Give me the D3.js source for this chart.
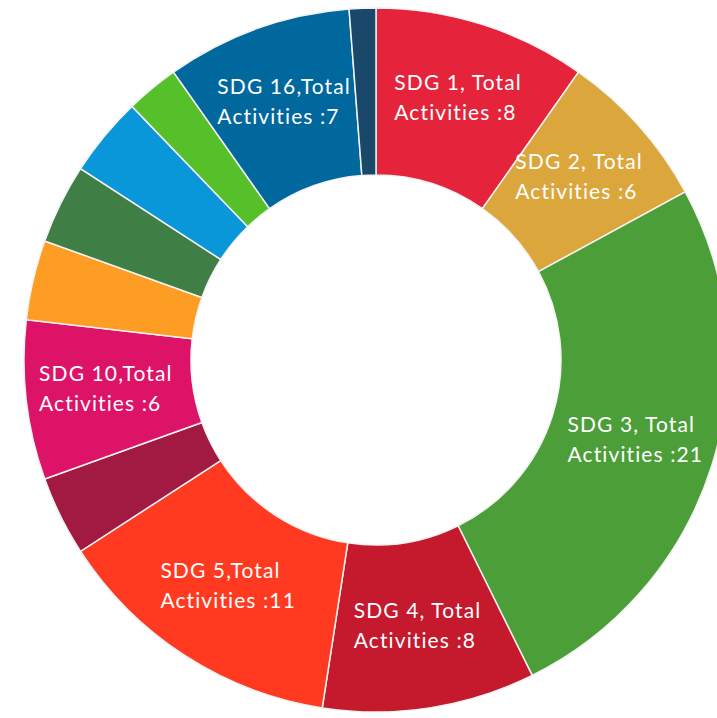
<!DOCTYPE html>
<html>
<head>
<meta charset="utf-8">
<script src="https://cdn.jsdelivr.net/npm/d3@7"></script>
<style>
  body { margin: 0; background: #fff; }
  .label { font-family: Lato, "Open Sans", sans-serif; font-size: 21px; letter-spacing: 1.1px; fill: #fff; }
</style>
</head>
<body>
<svg class="chart"></svg>
<script>
var width = 717,
    height = 718,
    cx = 376, cy = 360,
    outerR = 352, innerR = 185,
    labelR = 272;

// data, clockwise from 12 o'clock
var goals = ["SDG 1", "SDG 2", "SDG 3", "SDG 4", "SDG 5", "SDG 8", "SDG 10",
             "SDG 11", "SDG 13", "SDG 14", "SDG 15", "SDG 16", "SDG 17"];
var activities = [8, 6, 21, 8, 11, 3, 6, 3, 3, 3, 2, 7, 1];
var colors = ["#e5243b", "#dba73d", "#4c9f38", "#c5192d", "#ff3a21", "#a21942", "#dd1367",
              "#fd9d24", "#3f7e44", "#0a97d9", "#56c02b", "#00689d", "#19486a"];
// Excel style label text (second line is "Activities :n")
var firstLines = ["SDG 1, Total", "SDG 2, Total", "SDG 3, Total", "SDG 4, Total", "SDG 5,Total", "", "SDG 10,Total",
                  "", "", "", "", "SDG 16,Total", ""];

var data = goals.map(function(g, i) {
  return {goal: g, value: activities[i], color: colors[i], line1: firstLines[i]};
});

var chart = d3.select(".chart")
    .attr("width", width)
    .attr("height", height);

var g = chart.append("g")
    .attr("transform", "translate(" + cx + "," + cy + ")");

var pie = d3.pie()
    .value(function(d) { return d.value; })
    .sort(null);

var arc = d3.arc()
    .innerRadius(innerR)
    .outerRadius(outerR);

var labelArc = d3.arc()
    .innerRadius(labelR)
    .outerRadius(labelR);

var slices = g.selectAll("path")
    .data(pie(data))
    .enter().append("path")
    .attr("d", arc)
    .attr("fill", function(d) { return d.data.color; })
    .attr("stroke", "#f2f2f2")
    .attr("stroke-width", 1.5);

// labels only on the bigger slices
var labels = g.selectAll("text.label")
    .data(pie(data).filter(function(d) { return d.data.line1 !== ""; }))
    .enter().append("text")
    .attr("class", "label");

labels.append("tspan")
    .attr("x", 0).attr("dy", 0)
    .text(function(d) { return d.data.line1; });
labels.append("tspan")
    .attr("x", 0).attr("dy", 30)
    .text(function(d) { return "Activities :" + d.data.value; });

// centre each left aligned block on the slice centroid
labels.each(function(d) {
  var bb = this.getBBox();
  var c = labelArc.centroid(d);
  d3.select(this).attr("transform",
    "translate(" + (c[0] - bb.width / 2) + "," + (c[1] - bb.y - bb.height / 2 - 4) + ")");
});
</script>
</body>
</html>
